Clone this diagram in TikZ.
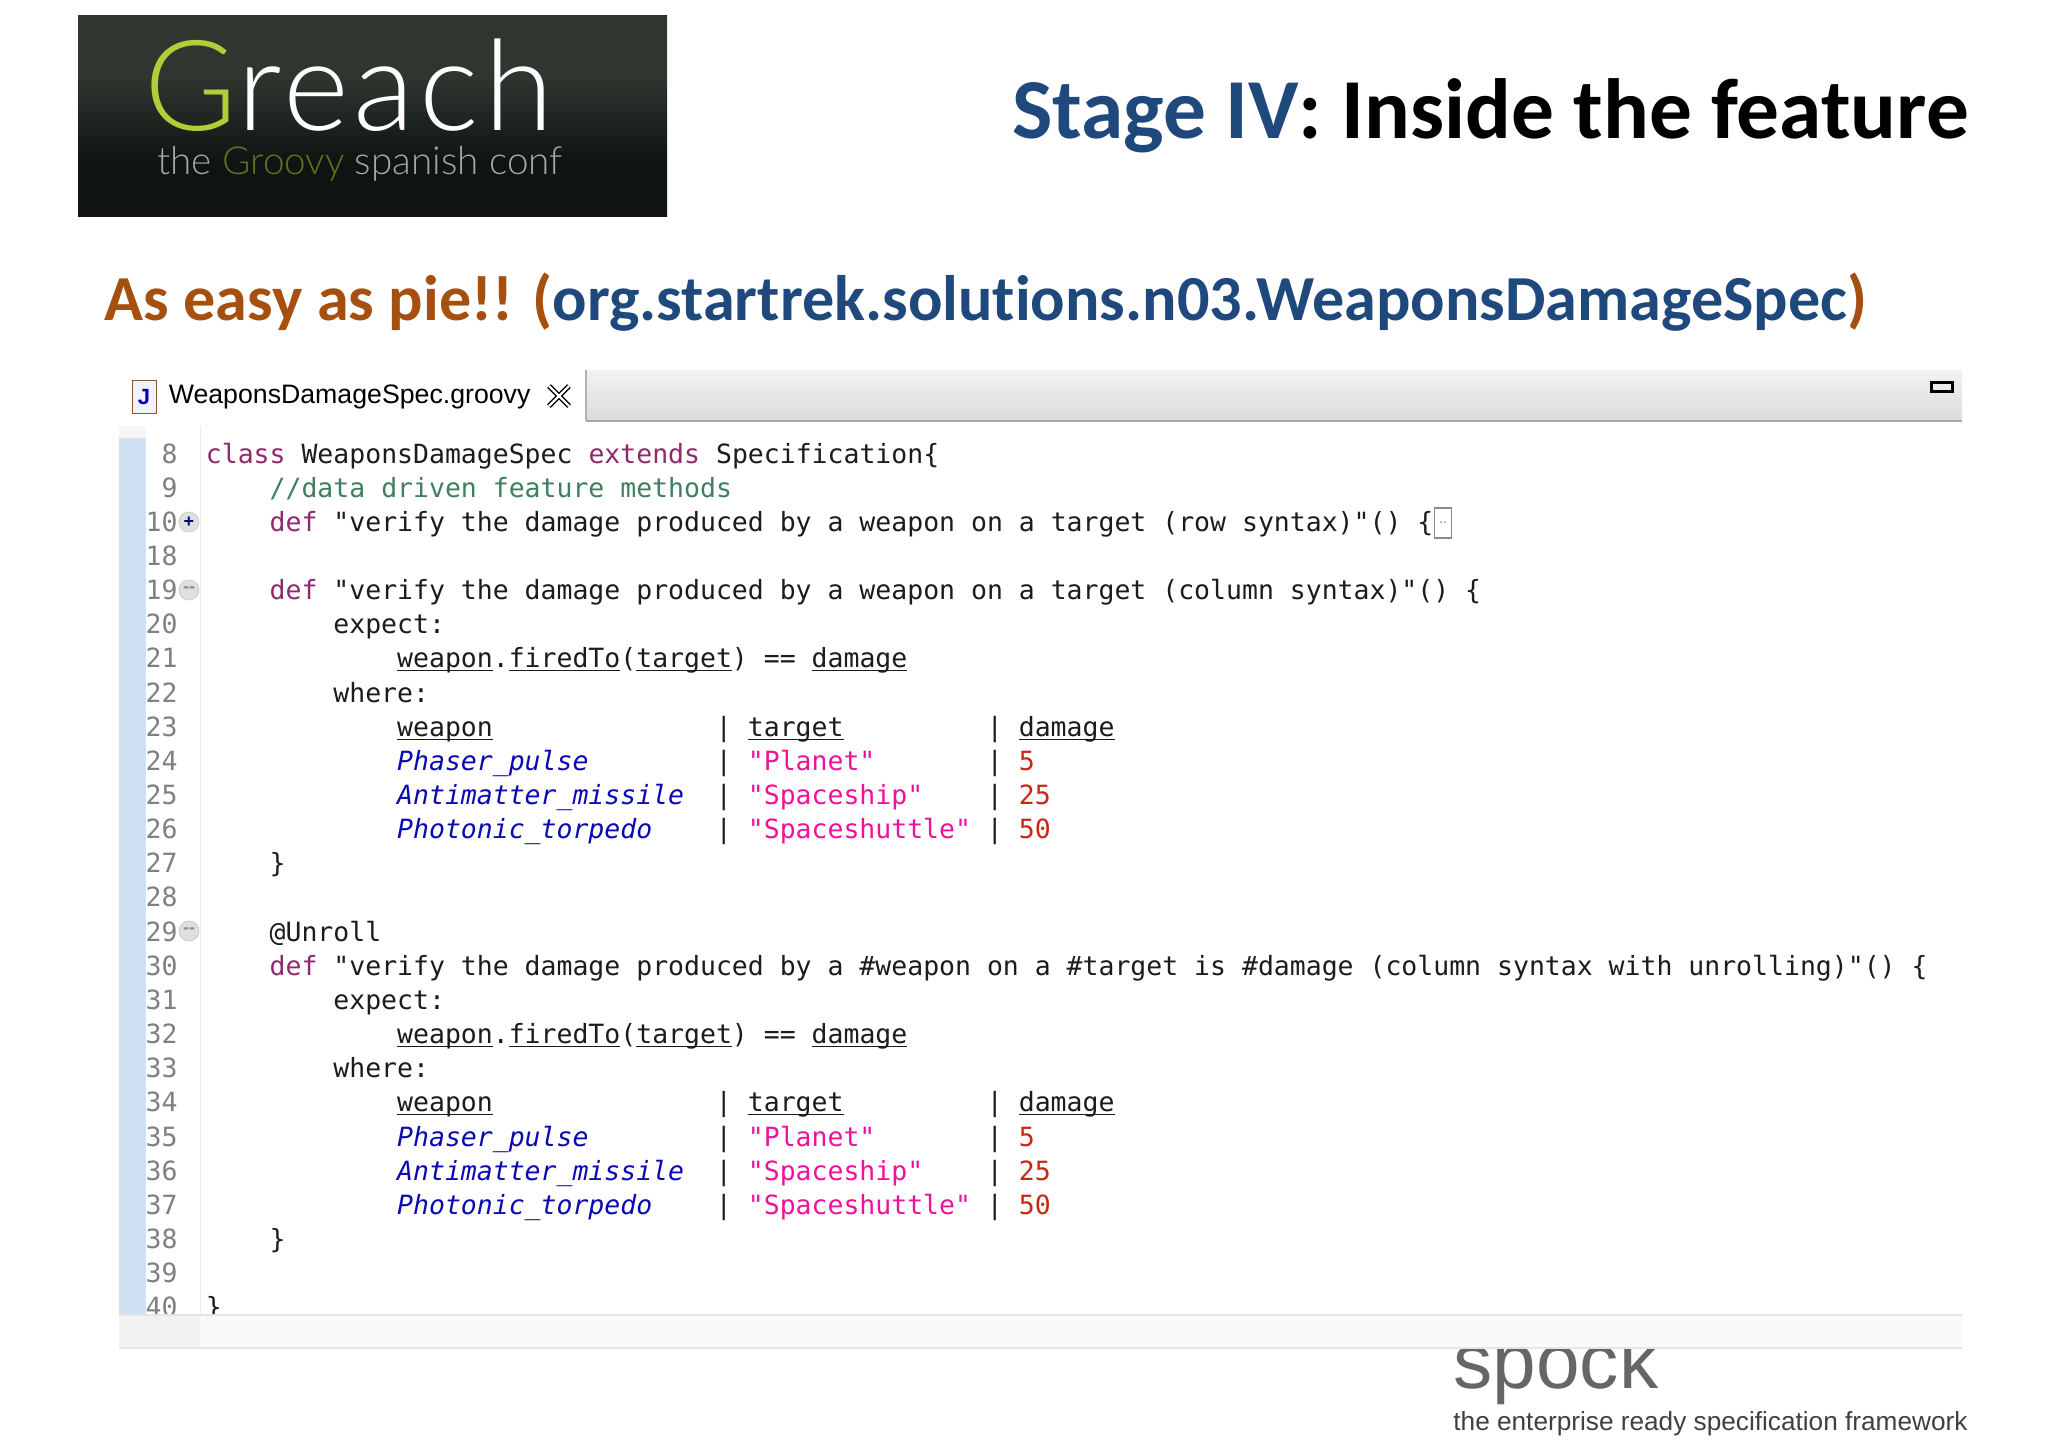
\documentclass[tikz,border=0pt]{standalone}
\usepackage{fontspec}
\usepackage{xcolor}
\setmainfont[Ligatures=NoCommon]{Carlito}
\newfontfamily\codefont{DejaVu Sans Mono}
\newfontfamily\uifont{Liberation Sans}
\newfontfamily\logofont{Lato Light}
\usetikzlibrary{positioning,calc}

\definecolor{titleblue}{HTML}{1F497D}
\definecolor{pieorange}{HTML}{A5500F}
\definecolor{logotop}{HTML}{2F3630}
\definecolor{logobot}{HTML}{0F1312}
\definecolor{logogreen}{HTML}{B4CC3A}
\definecolor{keyword}{HTML}{8E2A6E}
\definecolor{comment}{HTML}{3F7F5F}
\definecolor{fieldblue}{HTML}{0A0AB4}
\definecolor{stringpink}{HTML}{F0109C}
\definecolor{numred}{HTML}{C8280F}
\definecolor{codetext}{HTML}{1C1C1C}
\definecolor{rulerblue}{HTML}{CFE0F3}

\pgfdeclareverticalshading{logofade}{100bp}{color(0bp)=(logobot); color(38bp)=(logobot); color(60bp)=(logotop); color(100bp)=(logotop)}

\newcommand{\kw}[1]{\textcolor{keyword}{#1}}
\newcommand{\ulin}[1]{\underline{\smash{#1}}}
\newcommand{\codeat}[3]{\pgfmathtruncatemacro{\rowno}{#1}\node[codeline] (code\rowno-#2) at ({205.5+#2*15.94},{463+\rowno*34.15}) {#3};}

\tikzset{
	codeline/.style={anchor=base west,inner sep=0pt,text=codetext,font=\codefont\fontsize{13.24}{15}\selectfont},
	linenum/.style={anchor=base east,inner sep=0pt,text=black!50,font=\codefont\fontsize{13.24}{15}\selectfont},
	foldicon/.style={circle,draw=black!20,fill=black!12,minimum size=10pt,inner sep=0pt,text=black!45,font=\uifont\bfseries\fontsize{9}{9}\selectfont},
	headline/.style={anchor=base west,inner sep=0pt,font=\bfseries},
}

\begin{document}
\begin{tikzpicture}[x=0.5pt,y=-0.5pt]
	\useasboundingbox (0,0) rectangle (2048,1447);
	\fill[white] (0,0) rectangle (2048,1447);

	\shade[shading=logofade] (78,15) rectangle (667,216);
	\node[anchor=base west,inner sep=0pt,text=white,font=\logofont\fontsize{63}{63}\selectfont\addfontfeature{LetterSpace=4}] (logoname) at (144,130) {\textcolor{logogreen}{G}reach};
	\node[anchor=base west,inner sep=0pt,text=black!35,font=\logofont\fontsize{19.3}{20}\selectfont] (logosub) at (157,174) {the \textcolor{logogreen!55!black}{Groovy} spanish conf};

	\node[headline,font=\bfseries\fontsize{42.7}{50}\selectfont] (title) at (1012,138) {\textcolor{titleblue}{Stage IV}: Inside the feature};
	\node[headline,text=pieorange,font=\bfseries\fontsize{32.1}{38}\selectfont] (subtitle) at (104,320) {As easy as pie!! (\textcolor{titleblue}{org.startrek.solutions.n03.WeaponsDamageSpec})};

	\node[anchor=base west,inner sep=0pt,text=black!60,font=\uifont\fontsize{39.2}{39}\selectfont] (spock) at (1453,1388) {spock};
	\node[anchor=base west,inner sep=0pt,text=black!75,font=\uifont\fontsize{13.1}{14}\selectfont] (tagline) at (1453,1430) {the enterprise ready specification framework};

	\shade[top color=black!5,bottom color=black!14] (586,370) rectangle (1962,421);
	\draw[black!30,line width=1pt] (586,370) -- (586,421);
	\draw[black!35,line width=1pt] (586,421) -- (1962,421);
	\draw[black,line width=1.5pt] (1931,382) rectangle (1952,391);

	\node[draw=brown!70!black,fill=blue!5,minimum width=12pt,minimum height=16.5pt,inner sep=0pt,text=blue!70!black,font=\uifont\bfseries\fontsize{11}{11}\selectfont] (tabicon) at (144,397) {J};
	\node[anchor=west,inner sep=0pt,text=black,font=\uifont\fontsize{13.35}{16}\selectfont,right=6pt of tabicon] (tabname) {WeaponsDamageSpec.groovy};
	\draw[black,line width=2.6pt] (549,386) -- (569,406) (569,386) -- (549,406);
	\draw[white,line width=1.2pt] (549,386) -- (569,406) (569,386) -- (549,406);

	\fill[black!4] (119,426) rectangle (146,438);
	\fill[rulerblue] (119,438) rectangle (146,1314);
	\draw[black!8] (200,426) -- (200,1314);

	\foreach \n [count=\i from 0] in {8,9,10,18,19,...,40}{
		\node[linenum] (line\n) at ({178},{463+\i*34.15}) {\n};
	}
	\node[foldicon,text=blue!50!black] (fold10) at (189,522) {+};
	\node[foldicon] (fold19) at (189,590) {--};
	\node[foldicon] (fold29) at (189,931) {--};

	\codeat{0}{0}{\kw{class} WeaponsDamageSpec \kw{extends} Specification\{}
	\codeat{1}{4}{\textcolor{comment}{//data driven feature methods}}
	\codeat{2}{4}{\kw{def} "verify the damage produced by a weapon on a target (row syntax)"() \{}
	\codeat{4}{4}{\kw{def} "verify the damage produced by a weapon on a target (column syntax)"() \{}
	\codeat{14}{4}{@Unroll}
	\codeat{15}{4}{\kw{def} "verify the damage produced by a \#weapon on a \#target is \#damage (column syntax with unrolling)"() \{}
	\node[draw=black!45,line width=0.8pt,inner sep=0pt,minimum width=8.5pt,minimum height=15pt,text=black!50,font=\uifont\fontsize{7}{7}\selectfont] (collapsed) at (1443,523) {..};

	\foreach \base in {5,16}{
		\codeat{\base}{8}{expect:}
		\codeat{\base+1}{12}{\ulin{weapon}.\ulin{firedTo}(\ulin{target}) == \ulin{damage}}
		\codeat{\base+2}{8}{where:}
		\codeat{\base+3}{12}{\ulin{weapon}}
		\codeat{\base+3}{32}{|}
		\codeat{\base+3}{34}{\ulin{target}}
		\codeat{\base+3}{49}{|}
		\codeat{\base+3}{51}{\ulin{damage}}
		\foreach \off/\weap/\targ/\dmg in {4/Phaser\_pulse/Planet/5,5/Antimatter\_missile/Spaceship/25,6/Photonic\_torpedo/Spaceshuttle/50}{
			\codeat{\base+\off}{12}{\textcolor{fieldblue}{\itshape\weap}}
			\codeat{\base+\off}{32}{|}
			\codeat{\base+\off}{34}{\textcolor{stringpink}{"\targ"}}
			\codeat{\base+\off}{49}{|}
			\codeat{\base+\off}{51}{\textcolor{numred}{\dmg}}
		}
		\codeat{\base+7}{4}{\}}
	}
	\codeat{25}{0}{\}}

	\fill[black!2] (119,1315) rectangle (1962,1348);
	\fill[black!5] (119,1315) rectangle (200,1348);
	\draw[black!10,line width=1pt] (119,1315) -- (1962,1315) (119,1348) -- (1962,1348);
\end{tikzpicture}
\end{document}
